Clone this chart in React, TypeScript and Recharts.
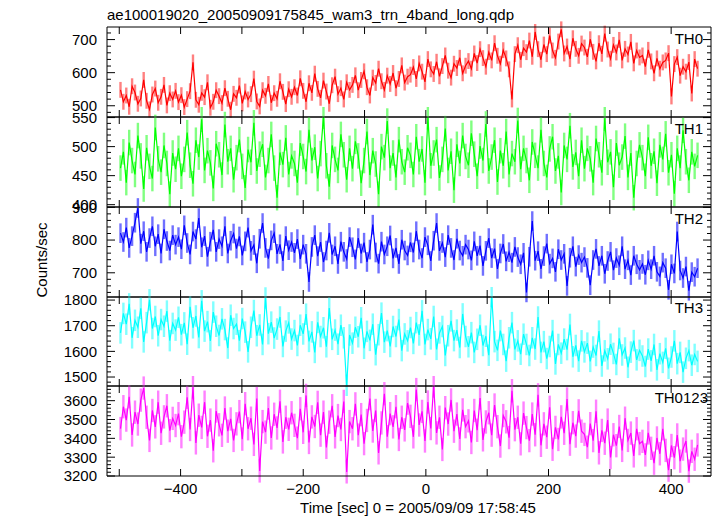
import { LineChart, Line, XAxis, YAxis, ErrorBar } from 'recharts';

const title = 'ae100019020_20050909175845_wam3_trn_4band_long.qdp';
const xLabel = 'Time [sec] 0 = 2005/09/09 17:58:45';
const yLabel = 'Counts/sec';

// time bins
const T0 = -498;
const BIN = 4.729;

// count rates (counts/sec), 20 bins per row
const th0 = [
  548, 512, 531, 497, 559, 540, 506, 522, 578, 515, 489, 534, 552, 509, 527, 563, 501, 538, 519, 545,
  511, 532, 496, 520, 544, 631, 518, 503, 539, 526, 571, 494, 512, 547, 529, 508, 553, 521, 488, 536,
  524, 561, 507, 543, 519, 535, 582, 513, 498, 547, 530, 566, 509, 538, 521, 574, 542, 505, 550, 527,
  556, 531, 583, 545, 512, 568, 539, 597, 551, 524, 576, 543, 506, 562, 588, 535, 553, 519, 571, 548,
  563, 592, 547, 578, 604, 556, 531, 585, 569, 612, 574, 548, 591, 566, 599, 553, 581, 622, 570, 588,
  594, 617, 581, 628, 603, 572, 641, 610, 596, 633, 589, 620, 652, 606, 585, 627, 614, 645, 598, 621,
  635, 612, 658, 629, 671, 644, 618, 662, 637, 689, 651, 627, 668, 643, 610, 519, 656, 683, 639, 674,
  662, 697, 648, 723, 671, 639, 685, 656, 712, 667, 645, 694, 731, 658, 679, 641, 704, 672, 651, 688,
  676, 648, 701, 663, 634, 689, 657, 718, 670, 642, 684, 661, 699, 637, 672, 655, 693, 628, 667, 646,
  652, 618, 669, 634, 598, 643, 612, 631, 637, 659, 528, 626, 647, 591, 618, 603, 632, 537, 641, 612,
];
const th1 = [
  463, 491, 438, 507, 476, 452, 519, 484, 427, 498, 466, 445, 533, 479, 456, 502, 471, 418, 489, 461,
  497, 449, 478, 524, 468, 436, 511, 482, 547, 459, 493, 472, 428, 505, 486, 451, 538, 474, 497, 443,
  481, 512, 466, 429, 495, 473, 541, 458, 487, 504, 447, 476, 521, 463, 412, 490, 469, 515, 452, 484,
  471, 438, 506, 483, 457, 529, 476, 499, 445, 488, 552, 467, 431, 502, 478, 459, 521, 486, 443, 497,
  462, 509, 484, 437, 476, 526, 451, 493, 470, 418, 500, 481, 544, 463, 489, 447, 512, 474, 456, 498,
  485, 452, 517, 474, 496, 438, 551, 467, 489, 512, 446, 478, 531, 459, 492, 425, 504, 471, 519, 483,
  468, 523, 487, 449, 501, 476, 539, 458, 482, 511, 439, 493, 467, 526, 452, 488, 474, 545, 461, 497,
  476, 442, 508, 485, 463, 529, 471, 447, 496, 517, 458, 484, 421, 502, 478, 536, 465, 490, 449, 511,
  462, 497, 479, 438, 514, 486, 455, 549, 473, 491, 430, 506, 468, 482, 518, 447, 489, 412, 471, 503,
  481, 449, 516, 467, 492, 437, 503, 478, 522, 455, 486, 419, 497, 463, 528, 474, 442, 491, 466, 485,
];
const th2 = [
  821, 794, 838, 776, 812, 853, 898, 789, 827, 764, 806, 842, 781, 818, 759, 833, 797, 768, 815, 786,
  809, 772, 845, 791, 756, 826, 803, 867, 778, 812, 749, 795, 831, 764, 803, 781, 842, 759, 798, 820,
  774, 811, 753, 796, 838, 767, 785, 729, 804, 852, 776, 743, 799, 821, 758, 787, 736, 812, 769, 794,
  761, 803, 742, 786, 758, 672, 779, 815, 751, 794, 733, 768, 822, 756, 781, 727, 795, 764, 742, 809,
  778, 741, 806, 759, 792, 733, 771, 847, 762, 728, 795, 756, 781, 814, 744, 776, 727, 801, 768, 753,
  793, 762, 827, 771, 745, 809, 784, 736, 798, 852, 767, 791, 748, 815, 776, 739, 804, 768, 752, 786,
  771, 738, 796, 752, 783, 721, 767, 806, 745, 774, 712, 759, 788, 735, 763, 731, 779, 748, 726, 761,
  640, 749, 858, 737, 766, 712, 751, 789, 728, 744, 703, 772, 739, 758, 660, 746, 781, 719, 754, 731,
  748, 715, 662, 739, 773, 721, 752, 697, 736, 764, 708, 745, 723, 781, 711, 738, 693, 752, 726, 709,
  727, 694, 738, 711, 752, 703, 689, 731, 714, 648, 726, 698, 826, 707, 684, 719, 645, 702, 688, 714,
];
const th3 = [
  1672, 1748, 1706, 1785, 1653, 1721, 1694, 1768, 1637, 1712, 1801, 1689, 1736, 1661, 1724, 1698, 1757, 1642, 1709, 1683,
  1733, 1665, 1711, 1628, 1774, 1692, 1738, 1654, 1797, 1679, 1716, 1641, 1753, 1698, 1662, 1727, 1685, 1613, 1741, 1689,
  1706, 1642, 1728, 1675, 1598, 1694, 1759, 1661, 1703, 1627, 1808, 1669, 1714, 1652, 1687, 1734, 1619, 1679, 1711, 1648,
  1681, 1623, 1702, 1668, 1745, 1639, 1676, 1596, 1713, 1658, 1692, 1618, 1769, 1647, 1683, 1628, 1702, 1653, 1468, 1664,
  1632, 1694, 1657, 1731, 1612, 1678, 1643, 1706, 1587, 1665, 1749, 1636, 1681, 1619, 1697, 1658, 1724, 1603, 1668, 1641,
  1693, 1631, 1712, 1664, 1758, 1627, 1685, 1649, 1736, 1608, 1672, 1697, 1584, 1661, 1719, 1642, 1683, 1615, 1746, 1658,
  1618, 1673, 1596, 1647, 1702, 1623, 1659, 1585, 1815, 1638, 1604, 1681, 1627, 1562, 1653, 1712, 1608, 1641, 1589, 1667,
  1627, 1584, 1653, 1609, 1734, 1596, 1638, 1572, 1619, 1681, 1551, 1627, 1593, 1648, 1607, 1705, 1579, 1623, 1562, 1641,
  1598, 1632, 1561, 1617, 1584, 1679, 1543, 1602, 1571, 1628, 1592, 1549, 1651, 1586, 1613, 1538, 1597, 1642, 1567, 1604,
  1582, 1541, 1609, 1563, 1627, 1528, 1591, 1557, 1612, 1534, 1578, 1641, 1552, 1596, 1519, 1573, 1603, 1546, 1588, 1561,
];
const th0123 = [
  3452, 3568, 3497, 3621, 3418, 3539, 3476, 3603, 3667, 3512, 3389, 3548, 3461, 3592, 3427, 3514, 3573, 3441, 3506, 3468,
  3531, 3409, 3486, 3618, 3447, 3672, 3376, 3523, 3458, 3592, 3411, 3497, 3334, 3545, 3472, 3416, 3561, 3438, 3503, 3389,
  3477, 3542, 3396, 3584, 3451, 3507, 3368, 3612, 3227, 3489, 3433, 3561, 3402, 3528, 3455, 3597, 3381, 3512, 3448, 3536,
  3469, 3401, 3557, 3432, 3628, 3378, 3514, 3463, 3591, 3417, 3539, 3352, 3486, 3573, 3408, 3521, 3447, 3596, 3222, 3489,
  3451, 3583, 3417, 3526, 3372, 3495, 3611, 3439, 3548, 3323, 3482, 3637, 3409, 3531, 3461, 3568, 3394, 3512, 3445, 3587,
  3517, 3408, 3659, 3471, 3543, 3386, 3593, 3452, 3678, 3429, 3512, 3341, 3563, 3476, 3604, 3438, 3529, 3397, 3551, 3462,
  3493, 3378, 3548, 3443, 3614, 3392, 3487, 3536, 3417, 3577, 3462, 3359, 3521, 3488, 3404, 3653, 3446, 3512, 3371, 3534,
  3457, 3388, 3529, 3419, 3631, 3363, 3477, 3406, 3565, 3342, 3458, 3394, 3514, 3427, 3609, 3369, 3483, 3412, 3546, 3438,
  3421, 3353, 3478, 3388, 3544, 3323, 3442, 3374, 3497, 3298, 3419, 3361, 3463, 3336, 3507, 3389, 3428, 3307, 3451, 3372,
  3384, 3312, 3429, 3347, 3268, 3402, 3318, 3451, 3336, 3231, 3362, 3297, 3418, 3279, 3343, 3386, 3226, 3331, 3289, 3365,
];

const bands = ['TH0', 'TH1', 'TH2', 'TH3', 'TH0123'];
const series = [th0, th1, th2, th3, th0123];
const errors = [24, 22, 30, 42, 62];
const colors = ['#ff0000', '#00ff00', '#0000ff', '#00ffff', '#ff00ff'];
const errColors = ['#ff8080', '#80ff80', '#7070ff', '#80ffff', '#ff80ff'];

const yDomains = [[466, 738], [396, 551], [626, 901], [1465, 1812], [3200, 3678]];
const yMajor = [
  [500, 600, 700],
  [400, 450, 500, 550],
  [700, 800, 900],
  [1500, 1600, 1700, 1800],
  [3200, 3300, 3400, 3500, 3600],
];
const yMinorStep = [20, 10, 20, 20, 20];
const xMajor = [-400, -200, 0, 200, 400];
const xTicks = [-500, -400, -300, -200, -100, 0, 100, 200, 300, 400];
const xDomain = [-520, 465];

const panelEdges = [27, 117, 207, 297, 386, 476];
const labelPos = [[703, 44], [703, 134], [703, 224], [703, 313], [708, 403]];

const FONT = '"Liberation Sans", Arial, Helvetica, sans-serif';
const PAD = 10;
const BOTTOM_PAD = 40;

const fmt = (v: number) => (v < 0 ? '\u2212' + Math.abs(v) : String(v));

function yTicksFor(i: number) {
  const [lo, hi] = yDomains[i];
  const step = yMinorStep[i];
  const out: number[] = [];
  for (let v = Math.ceil(lo / step) * step; v <= hi; v += step) out.push(v);
  return out;
}

const LeftTick = (props: any) => {
  const { x, y, payload, major } = props;
  const isMajor = major.includes(payload.value);
  return (
    <g>
      <line x1={x} x2={x + (isMajor ? 8 : 4)} y1={y} y2={y} stroke="#000" />
      {isMajor && (
        <text x={x - 10} y={y} dy="0.36em" textAnchor="end" fontSize={15} fill="#000" fontFamily={FONT}>
          {payload.value}
        </text>
      )}
    </g>
  );
};

const RightTick = (props: any) => {
  const { x, y, payload, major } = props;
  const isMajor = major.includes(payload.value);
  return <line x1={x} x2={x - (isMajor ? 8 : 4)} y1={y} y2={y} stroke="#000" />;
};

const BottomTick = (props: any) => {
  const { x, y, payload, showLabel } = props;
  return (
    <g>
      <line x1={x} x2={x} y1={y} y2={y - 7} stroke="#000" />
      {showLabel && xMajor.includes(payload.value) && (
        <text x={x} y={y + 18} textAnchor="middle" fontSize={15} fill="#000" fontFamily={FONT}>
          {fmt(payload.value)}
        </text>
      )}
    </g>
  );
};

const TopTick = (props: any) => {
  const { x, y } = props;
  return <line x1={x} x2={x} y1={y} y2={y + 7} stroke="#000" />;
};

function Panel({ i }: { i: number }) {
  const top = panelEdges[i];
  const h = panelEdges[i + 1] - top;
  const last = i === series.length - 1;
  const bottomPad = last ? BOTTOM_PAD : PAD;
  const rows = series[i].map((v, k) => ({ t: T0 + k * BIN, v, e: errors[i] }));
  const major = yMajor[i];
  const yTicks = yTicksFor(i);
  return (
    <div style={{ position: 'absolute', left: 0, top: top - PAD }}>
      <LineChart
        width={717}
        height={h + PAD + bottomPad}
        data={rows}
        margin={{ top: PAD - 1, bottom: bottomPad - 1, left: 7, right: 5 }}
      >
        <XAxis
          xAxisId="b"
          dataKey="t"
          type="number"
          domain={xDomain}
          allowDataOverflow
          ticks={xTicks}
          interval={0}
          height={1}
          tickSize={0}
          tickMargin={0}
          stroke="#000"
          tick={(p: any) => <BottomTick {...p} showLabel={last} />}
        />
        <XAxis
          xAxisId="t"
          orientation="top"
          dataKey="t"
          type="number"
          domain={xDomain}
          allowDataOverflow
          ticks={xTicks}
          interval={0}
          height={1}
          tickSize={0}
          tickMargin={0}
          stroke="#000"
          tick={(p: any) => <TopTick {...p} />}
        />
        <YAxis
          yAxisId="l"
          type="number"
          domain={yDomains[i]}
          allowDataOverflow
          ticks={yTicks}
          interval={0}
          width={100}
          tickSize={0}
          tickMargin={0}
          stroke="#000"
          tick={(p: any) => <LeftTick {...p} major={major} />}
        />
        <YAxis
          yAxisId="r"
          orientation="right"
          type="number"
          domain={yDomains[i]}
          allowDataOverflow
          ticks={yTicks}
          interval={0}
          width={1}
          tickSize={0}
          tickMargin={0}
          stroke="#000"
          tick={(p: any) => <RightTick {...p} major={major} />}
        />
        <Line
          xAxisId="b"
          yAxisId="l"
          dataKey="v"
          stroke={errColors[i]}
          strokeOpacity={0}
          dot={false}
          isAnimationActive={false}
        >
          <ErrorBar dataKey="e" width={0} stroke={errColors[i]} strokeWidth={2.4} isAnimationActive={false} />
        </Line>
        <Line
          xAxisId="b"
          yAxisId="l"
          dataKey="v"
          type="linear"
          stroke={colors[i]}
          strokeWidth={1.2}
          dot={false}
          isAnimationActive={false}
        />
      </LineChart>
    </div>
  );
}

export default function App() {
  return (
    <div style={{ position: 'absolute', left: 0, top: 0, width: 717, height: 516, background: '#fff' }}>
      {series.map((_, i) => (
        <Panel key={bands[i]} i={i} />
      ))}
      <svg
        width={717}
        height={516}
        style={{ position: 'absolute', left: 0, top: 0, pointerEvents: 'none' }}
        fontFamily={FONT}
        fontSize={15}
      >
        <text x={107} y={20} fill="#000">{title}</text>
        {bands.map((b, i) => (
          <text key={b} x={labelPos[i][0]} y={labelPos[i][1]} textAnchor="end" fill="#000">
            {b}
          </text>
        ))}
        <text x={0} y={0} transform="translate(47 260) rotate(-90)" textAnchor="middle" fill="#000">
          {yLabel}
        </text>
        <text x={418} y={513} textAnchor="middle" fill="#000">{xLabel}</text>
      </svg>
    </div>
  );
}
